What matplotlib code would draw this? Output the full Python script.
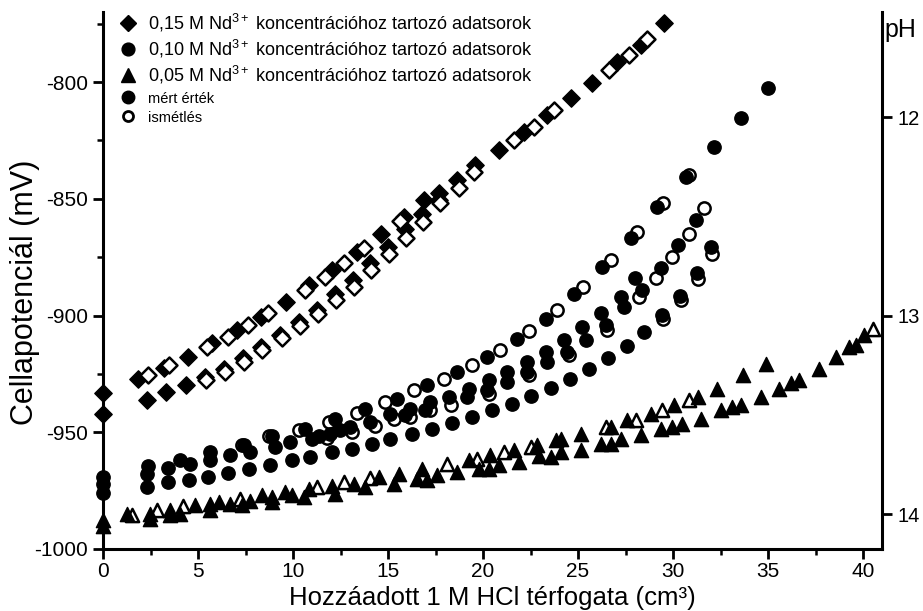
import matplotlib
matplotlib.use('Agg')
import matplotlib.pyplot as plt
from matplotlib.lines import Line2D
from matplotlib.ticker import MultipleLocator

plt.rcParams['font.family'] = ['Liberation Sans', 'DejaVu Sans']
plt.rcParams['mathtext.fontset'] = 'custom'
plt.rcParams['mathtext.rm'] = 'Liberation Sans'
plt.rcParams['mathtext.it'] = 'Liberation Sans:italic'
plt.rcParams['mathtext.bf'] = 'Liberation Sans:bold'
plt.rcParams['axes.unicode_minus'] = False

# ---------------- data (V HCl in cm3, E in mV) ----------------
# 0.15 M Nd3+ : measured (filled) and repeated (open)
d15_meas_x = [0, 0, 1.83, 3.23, 4.46, 5.73, 7.04, 8.31, 9.63, 10.82, 12.05, 13.37, 14.65, 15.83,
              16.88, 17.67, 18.64, 19.60, 20.83, 22.15, 23.38, 24.61, 25.75, 27.07, 28.30, 29.53,
              2.30, 3.32, 4.36, 5.38, 6.38, 7.36, 8.33, 9.34, 10.33, 11.26, 12.19, 13.14, 14.07,
              15.00, 15.92, 16.79, 17.67]
d15_meas_y = [-933, -942, -927.0, -922.3, -917.7, -911.7, -906.3, -900.6, -894.2, -887.0, -880.3,
              -872.7, -865.2, -857.7, -850.6, -847.7, -842.0, -835.6, -829.1, -821.3, -814.1,
              -807.0, -800.6, -791.3, -784.1, -774.9,
              -936.0, -932.7, -929.9, -926.3, -922.7, -918.4, -913.4, -908.4, -902.7, -897.7,
              -890.9, -884.6, -877.7, -870.6, -863.1, -856.4, -850.5]
d15_rep_x = [2.35, 3.45, 5.46, 6.57, 7.61, 8.66, 10.61, 11.66, 12.67, 13.72, 15.65,
             18.73, 19.52, 21.62, 22.68, 23.73, 26.63, 27.68, 28.65,
             5.40, 6.40, 7.40, 8.36, 9.40, 10.38, 11.31, 12.26, 13.19, 14.12, 15.07, 15.95,
             16.85, 17.76]
d15_rep_y = [-925.6, -921.3, -913.7, -909.2, -904.2, -899.1, -888.9, -883.4, -877.3, -870.9,
             -859.4, -845.6, -838.4, -824.9, -819.2, -812.0, -794.9, -788.4, -781.7,
             -927.5, -924.0, -919.8, -914.9, -909.8, -904.6, -899.4, -893.4, -887.7, -880.6,
             -873.7, -866.6, -860.0, -852.0]

# 0.10 M Nd3+
d10_meas_x = [0, 0, 0,
              2.39, 4.06, 5.64, 7.40, 8.90, 10.65, 12.23, 13.81, 15.48, 17.06, 18.64, 20.22,
              21.80, 23.29, 24.79, 26.28, 27.77, 29.18, 30.67, 32.16, 33.60, 35.00,
              2.30, 3.44, 4.58, 5.64, 6.69, 7.75, 9.06, 9.85, 11.00, 11.35, 11.96, 12.49, 13.02,
              14.07, 15.13, 15.90, 16.18, 16.97, 17.23, 18.20, 19.25, 20.31, 21.27, 22.33, 23.29,
              24.27, 25.22, 26.19, 27.25, 27.98,
              19.17, 20.22, 21.27, 22.33, 23.38, 24.43, 25.40, 26.46, 27.42, 28.39, 29.35,
              30.26, 31.20,
              2.30, 3.44, 4.50, 5.55, 6.60, 7.66, 8.80, 9.94, 10.91, 12.05, 13.11, 14.16, 15.13,
              16.26, 17.32, 18.38, 19.43, 20.48, 21.54, 22.50, 23.56, 24.57, 25.58, 26.58,
              27.56, 28.48, 29.44, 30.37, 31.25, 32.02]
d10_meas_y = [-969, -972, -976,
              -964.6, -961.7, -958.4, -955.3, -951.7, -948.5, -944.2, -939.9, -935.6, -929.9,
              -924.2, -917.7, -910.2, -901.3, -890.6, -879.1, -867.0, -853.4, -840.6, -828.0,
              -815.6, -802.7,
              -967.7, -965.2, -963.4, -962.0, -959.9, -958.4, -956.3, -954.2, -952.7, -951.7,
              -950.6, -949.2, -947.7, -945.6, -942.0, -942.7, -939.9, -940.6, -937.0, -934.9,
              -931.3, -927.7, -924.2, -919.9, -915.6, -910.6, -904.9, -899.1, -892.0, -884.1,
              -934.9, -932.0, -928.5, -924.2, -919.9, -915.6, -910.6, -904.2, -896.3, -889.2,
              -879.8, -869.6, -859.2,
              -973.5, -971.3, -970.3, -969.2, -967.5, -965.6, -964.2, -962.0, -960.6, -958.4,
              -957.0, -954.9, -952.7, -950.6, -948.5, -946.0, -943.4, -940.6, -937.7, -934.6,
              -930.9, -927.3, -923.0, -918.4, -913.0, -907.0, -899.9, -891.7, -882.0, -870.6]
d10_rep_x = [7.31, 8.75, 10.29, 11.87, 13.37, 14.86, 16.35, 17.93, 19.43, 20.92, 22.41, 23.87,
             25.28, 26.72, 28.10, 29.45, 30.85,
             11.80, 13.10, 14.30, 15.30, 16.18, 17.23, 18.29, 20.30, 22.40, 24.50, 26.50,
             28.21, 29.10, 29.96, 30.84, 31.64,
             29.45, 30.40, 31.30, 32.05]
d10_rep_y = [-955.6, -951.5, -949.2, -945.6, -941.6, -937.0, -932.0, -927.0, -921.0, -914.6,
             -906.7, -897.7, -887.7, -876.3, -864.3, -852.0, -839.8,
             -952.3, -950.0, -947.5, -944.2, -943.4, -940.6, -938.4, -933.5, -925.5, -917.0,
             -906.0, -892.0, -884.1, -874.8, -864.9, -854.1,
             -901.5, -893.5, -884.5, -873.5]

# 0.05 M Nd3+
d05_meas_x = [0, 0, 1.25, 2.48, 2.48, 3.53, 3.53, 4.06, 4.84, 5.64, 5.64, 6.08, 6.69, 7.31, 7.75,
              8.36, 8.89, 8.89, 9.59, 9.94, 10.56, 10.82, 12.05, 12.23, 13.19, 13.81, 14.51,
              15.30, 15.56, 16.79, 16.53, 17.06, 17.58, 18.64, 19.25, 19.78, 20.39, 20.31, 20.83,
              21.62, 21.89, 22.85, 22.94, 23.56, 23.82, 24.08, 24.08, 25.14, 25.14, 26.19, 26.72,
              26.72, 27.25, 27.59, 28.30, 28.83, 29.35, 29.96, 30.05, 30.49, 31.29, 31.46, 32.34,
              32.52, 33.13, 33.57, 33.66, 34.62, 34.89, 35.59, 36.20, 36.64, 37.70, 38.58, 39.28,
              39.63, 40.07]
d05_meas_y = [-987.7, -990.3, -984.9, -984.9, -987.0, -983.2, -985.5, -984.9, -981.3, -980.6,
              -983.5, -979.9, -980.9, -981.3, -979.4, -977.0, -977.7, -979.9, -975.6, -977.0,
              -977.7, -974.2, -973.2, -976.3, -972.0, -973.5, -969.2, -972.0, -967.7, -965.6,
              -969.9, -970.6, -968.4, -967.0, -962.0, -965.6, -959.9, -965.6, -964.2, -957.7,
              -962.7, -955.6, -960.3, -960.6, -953.4, -952.7, -958.4, -950.6, -957.7, -954.9,
              -947.7, -954.9, -952.7, -944.9, -951.3, -942.0, -948.5, -947.7, -938.4, -946.3,
              -934.9, -944.2, -931.3, -940.6, -939.1, -938.4, -925.6, -934.9, -920.6, -931.3,
              -928.7, -927.7, -922.7, -917.7, -913.4, -912.7, -908.4]
d05_rep_x = [1.51, 2.83, 4.23, 7.22, 11.26, 12.67, 14.07, 18.11, 19.69, 21.10, 22.50, 26.46,
             28.04, 29.44, 30.84, 40.51]
d05_rep_y = [-985.6, -983.5, -981.7, -978.4, -973.5, -971.3, -969.6, -963.4, -961.3, -958.4,
             -956.3, -947.7, -944.6, -940.6, -936.3, -905.6]

legend_labels = [r'0,15 M Nd$^{3+}$ koncentrációhoz tartozó adatsorok',
                 r'0,10 M Nd$^{3+}$ koncentrációhoz tartozó adatsorok',
                 r'0,05 M Nd$^{3+}$ koncentrációhoz tartozó adatsorok',
                 'mért érték', 'ismétlés']

# pH axis mapping: E = -815 - 85.1*(pH-12)
E_top, E_bot = -770, -1000
pH_top = 12 + (-815 - E_top) / 85.1
pH_bot = 12 + (-815 - E_bot) / 85.1

# ---------------- figure ----------------
fig = plt.figure(figsize=(9.23, 6.11), dpi=100)
ax = fig.add_axes([0.1116, 0.1015, 0.8440, 0.8789])

kw_f = dict(c='black', edgecolors='black', linewidths=1.0, clip_on=False)
kw_o = dict(c='white', edgecolors='black', linewidths=1.8, clip_on=False)

ax.scatter(d15_meas_x, d15_meas_y, marker='D', s=78, zorder=3, **kw_f)
ax.scatter(d15_rep_x, d15_rep_y, marker='D', s=66, zorder=4, **kw_o)
ax.scatter(d10_rep_x, d10_rep_y, marker='o', s=78, zorder=3, **kw_o)
ax.scatter(d10_meas_x, d10_meas_y, marker='o', s=92, zorder=4, **kw_f)
ax.scatter(d05_rep_x, d05_rep_y, marker='^', s=90, zorder=3, **kw_o)
ax.scatter(d05_meas_x, d05_meas_y, marker='^', s=105, zorder=4, **kw_f)

ax.set_xlim(0, 41)
ax.set_ylim(E_bot, E_top)
ax.xaxis.set_major_locator(MultipleLocator(5))
ax.xaxis.set_minor_locator(MultipleLocator(2.5))
ax.yaxis.set_major_locator(MultipleLocator(50))
ax.yaxis.set_minor_locator(MultipleLocator(25))
ax.tick_params(which='major', direction='out', length=7, width=2, labelsize=15, pad=4)
ax.tick_params(axis='x', which='major', pad=2.5)
ax.tick_params(which='minor', direction='out', length=4, width=1.8)
for s in ['left', 'bottom']:
    ax.spines[s].set_linewidth(2.2)
ax.spines['top'].set_visible(False)
ax.spines['right'].set_visible(False)

ax.set_xlabel('Hozzáadott 1 M HCl térfogata (cm³)', fontsize=18.5)
ax.xaxis.label.set_verticalalignment('bottom')
ax.xaxis.set_label_coords(0.5, -0.1145)
ax.set_ylabel('Cellapotenciál (mV)', fontsize=22)
ax.yaxis.set_label_coords(-0.0814, 0.478)

ax2 = ax.twinx()
ax2.set_ylim(pH_bot, pH_top)
ax2.set_yticks([12, 13, 14])
ax2.tick_params(which='major', direction='out', length=7, width=2, labelsize=14.5, pad=4)
ax2.spines['right'].set_linewidth(2.2)
for s in ['top', 'left', 'bottom']:
    ax2.spines[s].set_visible(False)
ax2.text(1.003, 0.966, 'pH', transform=ax2.transAxes, fontsize=18, ha='left', va='center')

handles = [Line2D([], [], ls='none', marker='D', ms=7.8, mfc='black', mec='black'),
           Line2D([], [], ls='none', marker='o', ms=9.2, mfc='black', mec='black'),
           Line2D([], [], ls='none', marker='^', ms=9.8, mfc='black', mec='black'),
           Line2D([], [], ls='none', marker='o', ms=9.0, mfc='black', mec='black'),
           Line2D([], [], ls='none', marker='o', ms=7.2, mfc='white', mec='black', mew=2.0)]
leg = ax.legend(handles, legend_labels, loc='upper left', bbox_to_anchor=(0.021, 1.0),
                frameon=False, fontsize=13, handlelength=1.0, handletextpad=0.6,
                labelspacing=0.22, borderpad=0, borderaxespad=0)
for t in leg.get_texts()[3:]:
    t.set_fontsize(10.5)

fig.savefig('out.png', dpi=100)
